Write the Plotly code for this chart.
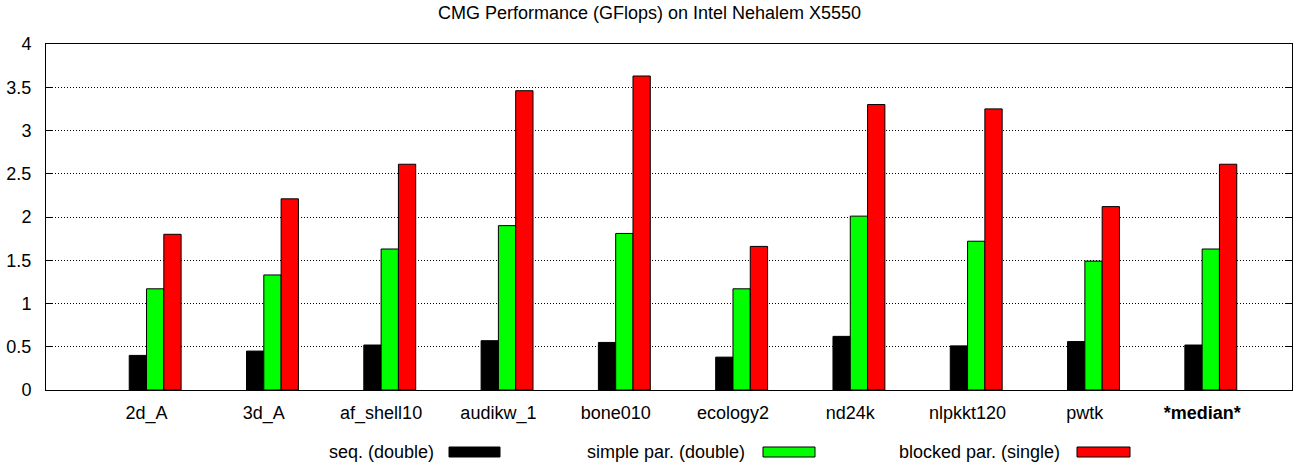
import numpy as np
import plotly.graph_objects as go

categories = ["2d_A", "3d_A", "af_shell10", "audikw_1", "bone010",
              "ecology2", "nd24k", "nlpkkt120", "pwtk", "<b>*median*</b>"]
seq_double = [0.40, 0.45, 0.52, 0.57, 0.55, 0.38, 0.62, 0.51, 0.56, 0.52]
simple_par_double = [1.17, 1.33, 1.63, 1.90, 1.81, 1.17, 2.01, 1.72, 1.49, 1.63]
blocked_par_single = [1.80, 2.21, 2.61, 3.46, 3.63, 1.66, 3.30, 3.25, 2.12, 2.61]
series_names = ["seq. (double)", "simple par. (double)", "blocked par. (single)"]
y_ticks = [0, 0.5, 1, 1.5, 2, 2.5, 3, 3.5, 4]
title_text = "CMG Performance (GFlops) on Intel Nehalem X5550"

W, H = 1299, 464
L, R, T, B = 46, 7, 44, 74
FONT = "Liberation Sans, Arial, Helvetica, sans-serif"

xpos = np.arange(len(categories))
bw = 0.1475
colors = ["#000000", "#00ff00", "#ff0000"]
offsets = [-bw, 0.0, bw]
data = [seq_double, simple_par_double, blocked_par_single]

fig = go.Figure()
for name, vals, col, off in zip(series_names, data, colors, offsets):
    fig.add_trace(go.Bar(
        x=xpos, y=vals, name=name, width=bw, offset=off,
        marker=dict(color=col, line=dict(color="#000000", width=1)),
        showlegend=False,
    ))

# custom legend (text then swatch, gnuplot style)
pw = W - L - R
ph = H - T - B
def px(x):
    return (x - L) / pw
def py(y):
    return (H - B - y) / ph

leg_text_end = [436, 747, 1062]
leg_sw = [(449, 500), (763, 815), (1077, 1130)]
leg_y = 452
for name, col, te, (s0, s1) in zip(series_names, colors, leg_text_end, leg_sw):
    fig.add_annotation(x=px(te), y=py(leg_y), xref="paper", yref="paper",
                       text=name, showarrow=False, xanchor="right", yanchor="middle",
                       font=dict(family=FONT, size=18, color="#000000"))
    fig.add_shape(type="rect", xref="paper", yref="paper",
                  x0=px(s0), x1=px(s1), y0=py(leg_y - 5), y1=py(leg_y + 5),
                  fillcolor=col, line=dict(color="#000000", width=1))

fig.update_layout(
    width=W, height=H,
    margin=dict(l=L, r=R, t=T, b=B, pad=0, autoexpand=False),
    plot_bgcolor="#ffffff", paper_bgcolor="#ffffff",
    barmode="overlay",
    font=dict(family=FONT, size=18, color="#000000"),
    title=dict(text=title_text, x=0.5, xref="container", xanchor="center",
               y=1 - 13 / H, yref="container", yanchor="middle",
               font=dict(family=FONT, size=18, color="#000000")),
    xaxis=dict(
        automargin=False,
        range=[-0.857, 9.766],
        tickmode="array", tickvals=xpos, ticktext=categories,
        ticks="outside", ticklen=6, tickcolor="rgba(0,0,0,0)",
        showgrid=False, zeroline=False,
        showline=True, linecolor="#000000", linewidth=1, mirror=True,
        tickfont=dict(family=FONT, size=18),
    ),
    yaxis=dict(
        automargin=False,
        range=[0, 4],
        tickmode="array", tickvals=y_ticks, ticktext=[f"{v:g}" for v in y_ticks],
        ticks="inside", ticklen=7, tickcolor="#000000", tickwidth=1,
        ticklabelstandoff=10,
        showgrid=True, gridcolor="#000000", gridwidth=1, griddash="1px,2px",
        zeroline=False,
        showline=True, linecolor="#000000", linewidth=1, mirror="ticks",
        tickfont=dict(family=FONT, size=18),
    ),
)

fig.write_html(
    "out.html",
    config={"displayModeBar": False},
    post_script="document.body.style.margin='0';document.body.style.overflow='hidden';",
)
